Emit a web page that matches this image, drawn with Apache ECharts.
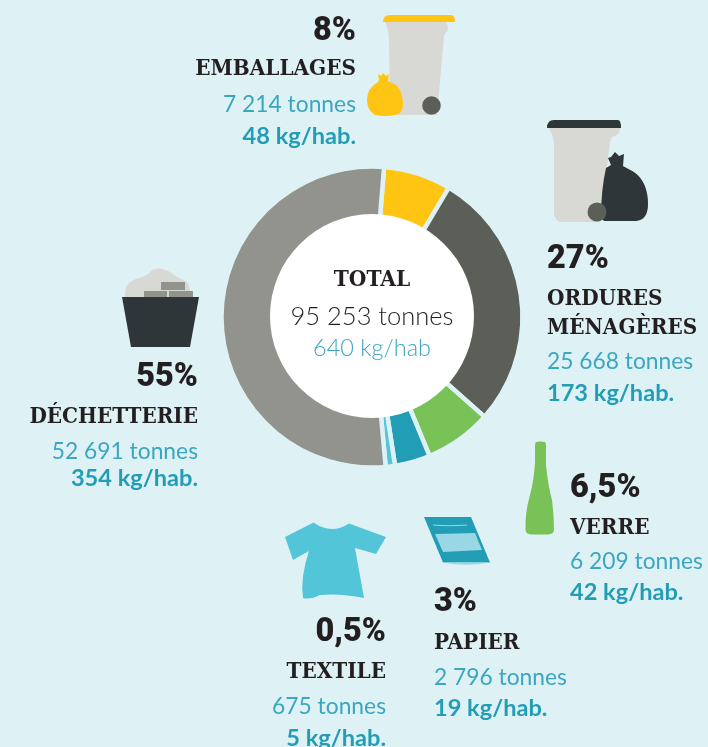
<!DOCTYPE html>
<html><head><meta charset="utf-8">
<style>html,body{margin:0;padding:0;background:#def2f6}#c{width:708px;height:747px}</style>
<script src="https://cdn.jsdelivr.net/npm/echarts@6/dist/echarts.min.js"></script>
</head><body><div id="c"></div>
<script>
// Data
const categories = ['EMBALLAGES','ORDURES MÉNAGÈRES','VERRE','PAPIER','TEXTILE','DÉCHETTERIE'];
const drawnShares = [7.25, 28, 7.2, 3.8, 1.0, 52.7]; // share of the ring as drawn, in %
const percents = ['8%','27%','6,5%','3%','0,5%','55%'];
const tonnes = ['7 214 tonnes','25 668 tonnes','6 209 tonnes','2 796 tonnes','675 tonnes','52 691 tonnes'];
const perHab = ['48 kg/hab.','173 kg/hab.','42 kg/hab.','19 kg/hab.','5 kg/hab.','354 kg/hab.'];
const colors = ['#ffc512','#5c5e58','#78c257','#219db5','#52c5d9','#91938c'];
const totalLabel = 'TOTAL', totalTonnes = '95 253 tonnes', totalHab = '640 kg/hab';

const BG='#def2f6', INK='#231f20', TEAL='#3ba6bf', TEALB='#229db5';
const SERIF='DejaVu Serif Condensed', SANS='Roboto', BODY='Lato';
const cx=372, cy=317;

function txt(x,y,s,align,font,size,weight,fill){
  return {type:'text',x:x,y:y,silent:true,z:20,style:{text:s,textAlign:align,textVerticalAlign:'middle',
    fontFamily:font,fontSize:size,fontWeight:weight,fill:fill}};
}
const layout=[
 [356,'right',32,[69],104.5,136],
 [547,'left',260,[299,328],362,393.5],
 [570,'left',489,[528],562,592.5],
 [434,'left',603,[643],678,708.5],
 [386,'right',633,[672],707,738],
 [198,'right',378,[417],452,478.5]
];
const nameLines=categories.map(n=>n==='ORDURES MÉNAGÈRES'?['ORDURES','MÉNAGÈRES']:[n]);
const g=[];
g.push({type:'circle',z:10,silent:true,shape:{cx:cx,cy:316,r:102},style:{fill:'#fff'}});
g.push(txt(cx,280,totalLabel,'center',SERIF,22.5,'bold',INK));
g.push(txt(cx,316.5,totalTonnes,'center',BODY,25.5,'300',INK));
g.push(txt(cx,348,totalHab,'center',BODY,23.5,'300',TEAL));
layout.forEach((l,i)=>{
  g.push(txt(l[0],l[2],percents[i],l[1],SANS,32.5,'900',INK));
  l[3].forEach((y,k)=>g.push(txt(l[0],y,nameLines[i][k],l[1],SERIF,22.3,'bold',INK)));
  g.push(txt(l[0],l[4],tonnes[i],l[1],BODY,22.8,'400',TEAL));
  g.push(txt(l[0],l[5],perHab[i],l[1],BODY,23.6,'bold',TEALB));
});
let nShape=0;
function p(d,fill){
  const name='icon'+(nShape++);
  echarts.graphic.registerShape(name,echarts.graphic.extendPath(d,{}));
  g.push({type:name,silent:true,z:15,style:{fill:fill}});
}
function c(x,y,r,fill){g.push({type:'circle',silent:true,z:16,shape:{cx:x,cy:y,r:r},style:{fill:fill}});}
const BIN='#d8d8d5';
p('M385 21 L446 21 Q450 30 446 32 Q445 33 444 36 L437 115 L396 115 Q390 115 390 108 L389 40 Q389 32 385 21Z',BIN);
p('M383 22 Q383 15 390 15 L451 15 Q455 15 455 22Z',colors[0]);
c(431.5,105.5,9.3,colors[1]);
p('M378 74 L381 76 L383 73 L386 76 L389 74 L388 81 L396 85 Q403 92 403 104 Q403 114 395 115 Q385 117 375 115 Q367 110 367 100 Q367 88 378 82 L379 80Z',colors[0]);
p('M549 128 L620 128 Q620 136 612 137 Q611 138 610 142 L600 222 L563 222 Q554 222 554 212 L554 145 Q554 137 549 128Z',BIN);
p('M547 128 Q547 120 554 120 L618 120 Q621 120 621 128Z','#2f3639');
p('M608 158 L611 157 L615 152 L619 156 L624 154 L623 166 L634 172 Q648 182 648 204 Q648 220 636 221 L604 221 L601 218 Q601 190 606 168 L611 165Z','#2f3639');
c(597,212,9.5,colors[1]);
p('M125 297 Q124 283 136 279 Q148 276 152 270 Q160 266 170 272 Q178 278 187 282 Q191 288 190 297Z',BIN);
p('M144 291H167V297H144ZM169 291H193V297H169ZM161 282H185V290H161Z',colors[5]);
p('M122 297H199L190 347H131Z','#2f3639');
p('M536 442 Q540 441 545 442 Q546 443 546 446 L546 465 Q548 485 552 500 Q554 515 554 530 Q554 534 548 534.5 L531 534.5 Q526 534 525.5 530 Q525 512 530 495 Q534 480 535 462 L535 446 Q535 443 536 442Z',colors[2]);
p('M285 537 L313.5 522.5 Q331 535 349 523.5 L386 537 L376 554 L355 548 L364 598 Q340 593 320 595 Q310 600 303 598 Q300 578 309 551 L293 560Z',colors[4]);
p('M424 517 L471 517 L490 562.5 L443 562.5Z',colors[3]);
p('M435 534 L475 533 L482 550 L443 552Z','#98d7e3');
p('M443 562.5 L490 562.5 Q466 567 443 562.5Z','#98d7e3');
p('M433 524.5 Q450 526 467 524.5 L467 525.5 Q450 527 433 525.5Z','#98d7e3');

const chart=echarts.init(document.getElementById('c'),null,{renderer:'canvas'});
chart.setOption({
  backgroundColor:BG,animation:false,
  color:colors,
  graphic:g,
  series:[{type:'pie',center:[cx,cy],radius:[90,150.5],startAngle:85.4,clockwise:true,silent:true,
    label:{show:false},labelLine:{show:false},
    itemStyle:{borderColor:BG,borderWidth:4.5},
    data:categories.map((n,i)=>({name:n,value:drawnShares[i]}))}]
});
</script></body></html>
